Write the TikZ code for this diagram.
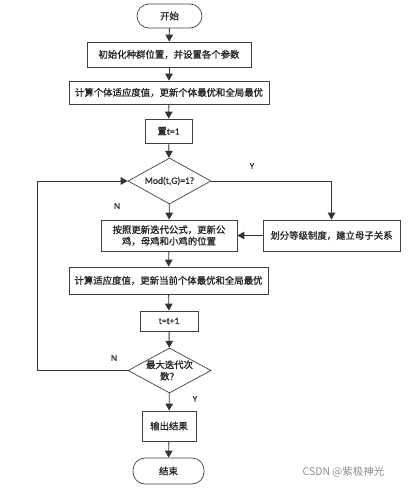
\documentclass[tikz,border=0pt]{standalone}
\usepackage{fontspec}
\setmainfont[FakeBold=1.2]{Noto Sans CJK SC}
\newfontfamily\wmf{Noto Sans CJK SC}
\newfontfamily\latf[FakeBold=0.6]{Carlito}
\usetikzlibrary{shapes.geometric,arrows.meta}
\tikzset{
  every node/.style={font=\fontsize{9.4}{11.5}\selectfont, text=black!85},
  proc/.style={draw=black!75, line width=0.7pt, rectangle, inner sep=0pt, align=center},
  term/.style={draw=black!75, line width=0.7pt, rectangle, rounded corners=12pt, inner sep=0pt},
  dia/.style={draw=black!75, line width=0.7pt, diamond, inner sep=0pt, minimum width=83pt, minimum height=46pt},
  lbl/.style={font=\latf\fontsize{9}{10}\selectfont, inner sep=0pt},
  arr/.style={draw=black!80, line width=0.9pt, -{Triangle[width=7.5pt,length=7pt]}},
  ln/.style={draw=black!80, line width=0.9pt}
}
\begin{document}
\begin{tikzpicture}[x=1pt,y=-1pt]
\useasboundingbox (0,0) rectangle (412,488);
\node[term, minimum width=65pt, minimum height=24pt] (start) at (169.5,16) {开始};
\node[proc, minimum width=164pt, minimum height=25pt] (b1) at (169,54.5) {初始化种群位置，并设置各个参数};
\node[proc, minimum width=200pt, minimum height=23pt] (b2) at (169,92.5) {计算个体适应度值，更新个体最优和全局最优};
\node[proc, minimum width=47pt, minimum height=24pt] (b3) at (168.5,131) {置{\latf t=1}};
\node[dia] (d1) at (169.5,181) {};
\node[inner sep=0pt, font=\latf\fontsize{9.5}{11}\selectfont] (d1t) at (d1.center) {Mod(t,G)=1?};
\node[proc, minimum width=136pt, minimum height=31pt] (u) at (169,235.5) {按照更新迭代公式，更新公\\鸡，母鸡和小鸡的位置};
\node[proc, minimum width=137pt, minimum height=31pt] (r) at (331.5,235.5) {划分等级制度，建立母子关系};
\node[proc, minimum width=199pt, minimum height=27pt] (b5) at (168.5,280.5) {计算适应度值，更新当前个体最优和全局最优};
\node[proc, minimum width=58pt, minimum height=20pt] (b6) at (169,321) {\latf t=t+1};
\node[dia, minimum height=45pt] (d2) at (169.5,370.5) {};
\node[inner sep=0pt, align=center] (d2t) at (d2.center) {最大迭代次\\数？};
\node[proc, minimum width=54pt, minimum height=30pt] (out) at (169,426) {输出结果};
\node[term, minimum width=71pt, minimum height=26pt] (end) at (168.5,471) {结束};
\coordinate (lb) at (37,370.5);
\coordinate (lt) at (37,181);
\node[lbl] (y1) at (252,166) {Y};
\node[lbl] (n1) at (117,206) {N};
\node[lbl] (n2) at (114,358) {N};
\node[lbl] (y2) at (195,399) {Y};
\node[font=\wmf\fontsize{10.5}{12}\selectfont, text=black!45, inner sep=0pt] (wm) at (343.5,472) {CSDN @紫极神光};
\draw[arr] (start) -- (b1);
\draw[arr] (b1) -- (b2);
\draw[arr] (b2) -- (b3);
\draw[arr] (b3) -- (d1);
\draw[arr] (d1) -- (u);
\draw[arr] (d1.east) -| (r.north);
\draw[arr] (r) -- (u);
\draw[arr] (u) -- (b5);
\draw[arr] (b5) -- (b6);
\draw[arr] (b6) -- (d2);
\draw[arr] (d2) -- (out);
\draw[arr] (out) -- (end);
\draw[ln] (d2.west) -- (lb) -- (lt);
\draw[arr] (lt) -- (d1.west);
\end{tikzpicture}
\end{document}
